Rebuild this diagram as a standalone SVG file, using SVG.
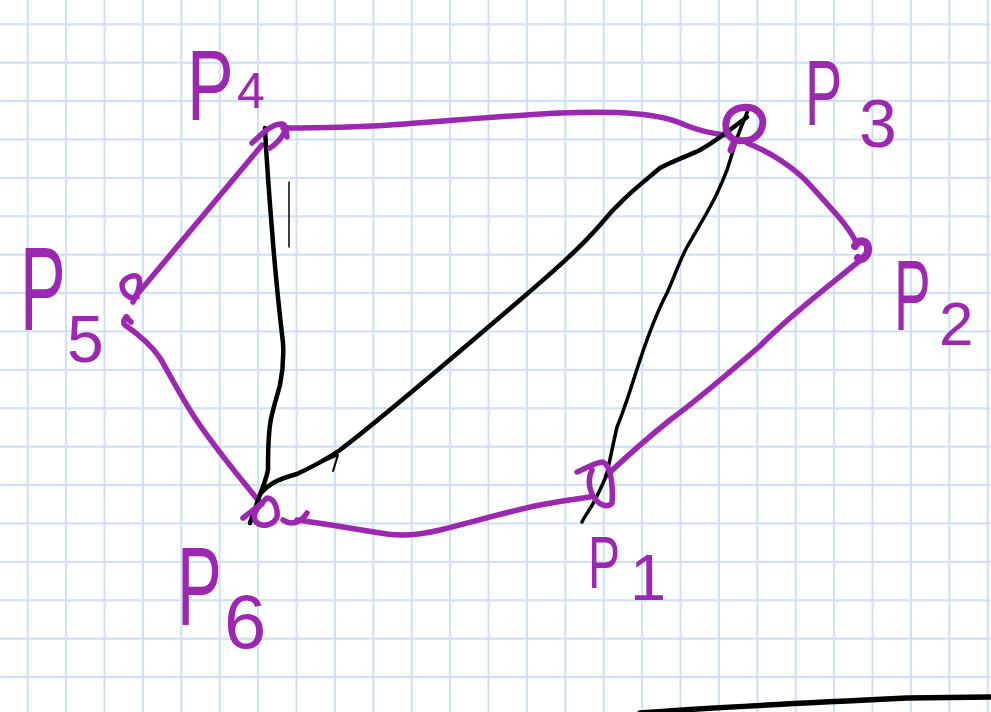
<svg xmlns="http://www.w3.org/2000/svg" width="991" height="712" viewBox="0 0 991 712">
<style>
.grid{stroke:#cde0f8;stroke-width:2;fill:none}
.pu{stroke:#9c27b0;stroke-width:5.5;fill:none;stroke-linecap:round;stroke-linejoin:round}
.bk{stroke:#000;stroke-width:4.5;fill:none;stroke-linecap:round;stroke-linejoin:round}
.lbl{fill:#9c27b0;font-family:"Liberation Sans",Arial,sans-serif}
</style>
<rect width="991" height="712" fill="#fff"/>
<path class="grid" d="M27.7,0V712M66.1,0V712M104.5,0V712M142.9,0V712M181.3,0V712M219.7,0V712M258.1,0V712M296.5,0V712M334.9,0V712M373.3,0V712M411.7,0V712M450.1,0V712M488.5,0V712M526.9,0V712M565.3,0V712M603.7,0V712M642.1,0V712M680.5,0V712M718.9,0V712M757.3,0V712M795.7,0V712M834.1,0V712M872.5,0V712M910.9,0V712M949.3,0V712M987.7,0V712M0,24.3H991M0,62.7H991M0,101.1H991M0,139.5H991M0,177.9H991M0,216.3H991M0,254.7H991M0,293.1H991M0,331.5H991M0,369.9H991M0,408.3H991M0,446.7H991M0,485.1H991M0,523.5H991M0,561.9H991M0,600.3H991M0,638.7H991M0,677.1H991"/>
<g id="connectors">
<path class="pu" d="M283,128 C330,128 360,127 390,125 S500,116 560,113 C620,111 660,113 685,125 C700,131 712,134 727,135"/>
<path class="pu" d="M747,143 C770,152 795,168 810,185 C828,205 845,222 855,240"/>
<path class="pu" d="M863,258 C830,285 790,315 760,346 C730,372 700,398 670,420 C645,440 625,458 607,475"/>
<path class="pu" d="M590,497 C570,500 555,502 540,505 C510,511 480,520 440,530 C420,535 400,537 380,533 C350,528 320,523 297,520"/>
<path class="pu" d="M258,500 C240,478 215,448 195,418 C180,395 170,375 160,358 C150,343 135,332 125,325 C122,322 125,318 127,317"/>
<path class="pu" d="M135,297 L262,145"/>
<path class="bk" d="M265,128 C266,150 268,180 272,230 C275,270 278,300 283,343 C284,360 282,375 280,385 C276,400 271,415 270,425 C268,440 268,460 268,470 C266,480 262,490 258,500 C255,510 252,517 250,523"/>
<path class="bk" d="M262,492 C268,485 275,480 297,474 C310,468 325,460 340,450 C380,420 450,360 520,300 C555,270 580,248 600,225 C620,200 640,185 660,168 C675,160 690,155 700,150 C715,142 730,130 747,117"/>
<path class="bk" style="stroke-width:2" d="M268,488 C280,478 300,473 318,464 L338,455 L333,471"/>
<path class="bk" style="stroke-width:3.5" d="M582,522 C584,517 590,510 595,500 C600,490 605,480 607,473 C611,455 614,440 617,427 C622,415 625,405 627,400 C632,385 636,372 640,360 C650,330 658,310 667,293 C675,275 680,260 687,247 C695,233 703,220 710,207 C718,193 723,180 727,170 C732,155 736,140 740,130 C744,120 746,115 748,110"/>
<path class="bk" style="stroke-width:1.5" d="M289,182 L289,247"/>
<path class="bk" style="stroke-width:5.5" d="M640,713 C700,708 780,704 907,698 L991,697"/>
</g>
<g id="p4">
<path class="pu" d="M252,143 C260,136 270,124 282,124 C290,126 282,140 270,148 M286,128 L287,137"/>
<text class="lbl" font-size="100" transform="translate(187,120) scale(0.7,1)">P</text>
<text class="lbl" font-size="50" x="237" y="108">4</text>
</g>
<g id="p3">
<path class="pu" style="stroke-width:7" d="M735,140 C722,135 722,112 740,108 C758,104 768,118 760,132 C755,140 745,142 735,140 L731,150"/>
<text class="lbl" font-size="93" transform="translate(805,125) scale(0.6,1)">P</text>
<text class="lbl" font-size="68" x="859" y="147">3</text>
</g>
<g id="p2">
<path class="pu" style="stroke-width:8" d="M855,246 C858,239 868,240 868,248 C869,255 862,262 858,258"/>
<text class="lbl" font-size="100" transform="translate(894,330) scale(0.55,1)">P</text>
<text class="lbl" font-size="62" x="939" y="345">2</text>
</g>
<g id="p1">
<path class="pu" d="M577,472 C583,470 595,462 603,462 C612,466 613,490 612,503 C608,508 598,506 592,494 C588,485 589,476 592,470"/>
<text class="lbl" font-size="74" transform="translate(588,588) scale(0.65,1)">P</text>
<text class="lbl" font-size="65" x="630" y="600">1</text>
</g>
<g id="p5">
<path class="pu" d="M137,297 C130,300 122,294 122,284 C125,277 135,273 139,278 C141,285 137,295 133,302 M126,317 L131,322"/>
<text class="lbl" font-size="118" transform="translate(20,330) scale(0.58,1)">P</text>
<text class="lbl" font-size="66" x="67" y="362">5</text>
</g>
<g id="p6">
<path class="pu" d="M243,518 C248,514 257,508 267,498 C274,498 278,508 277,517 C274,525 262,528 256,522 C252,516 256,508 262,504 M283,520 C290,525 300,524 307,513"/>
<text class="lbl" font-size="112" transform="translate(177,625) scale(0.6,1)">P</text>
<text class="lbl" font-size="76" x="224" y="648">6</text>
</g>
</svg>
